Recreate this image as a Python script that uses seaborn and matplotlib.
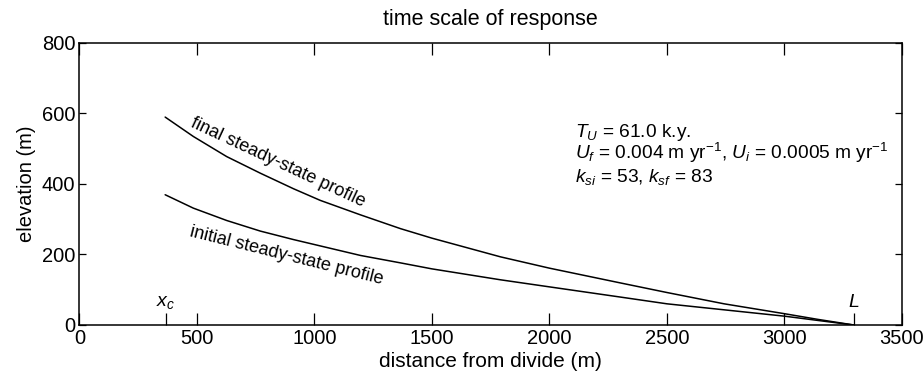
import pandas as pd
import numpy as np
import matplotlib.pyplot as plt
import seaborn as sns

# Values
dist = [365, 485, 627, 770, 911, 1025, 1196, 1366, 1500, 1792, 2000, 2303, 2500, 2743, 3000, 3141, 3295]
final_z = [589, 534, 477, 430, 386, 353, 312, 273, 246, 193, 161, 119, 92, 60, 32, 16, 0]
initial_z = [369, 331, 296, 266, 242, 224, 197, 176, 159, 128, 108, 79, 60, 43, 25, 13, 0]

x_c = 368
L = 3295

x_ticks = [0, 500, 1000, 1500, 2000, 2500, 3000, 3500]
y_ticks = [0, 200, 400, 600, 800]

info_lines = [
    '$T_U$ = 61.0 k.y.',
    '$U_f$ = 0.004 m yr$^{-1}$, $U_i$ = 0.0005 m yr$^{-1}$',
    '$k_{si}$ = 53, $k_{sf}$ = 83',
]

df = pd.concat([
    pd.DataFrame({'x': dist, 'z': final_z, 'profile': 'final'}),
    pd.DataFrame({'x': dist, 'z': initial_z, 'profile': 'initial'}),
])

sns.set_theme(style='ticks')
plt.rcParams['font.family'] = ['Liberation Sans', 'DejaVu Sans']
plt.rcParams['mathtext.fontset'] = 'custom'
plt.rcParams['mathtext.rm'] = 'Liberation Sans'
plt.rcParams['mathtext.it'] = 'Liberation Sans:italic'
plt.rcParams['text.color'] = 'black'
plt.rcParams['axes.labelcolor'] = 'black'

fig = plt.figure(figsize=(9.24, 3.73), dpi=100)
ax = fig.add_axes([0.0859, 0.1287, 0.8903, 0.7571])

sns.lineplot(data=df, x='x', y='z', hue='profile', palette=['black', 'black'],
             estimator=None, sort=False, legend=False, linewidth=1.1, ax=ax)

ax.set_xlim(0, 3500)
ax.set_ylim(0, 800)
ax.set_xticks(x_ticks)
ax.set_yticks(y_ticks)
ax.set_xticks([x_c, L], minor=True)
ax.tick_params(axis='x', which='both', direction='in', length=8.5, width=0.9,
               top=True, labelsize=14.5, colors='black', pad=3)
ax.tick_params(axis='x', which='minor', top=False)
ax.tick_params(axis='y', direction='in', length=5, width=0.9,
               right=True, labelsize=14.5, colors='black', pad=3)
for s in ax.spines.values():
    s.set_linewidth(1.1)
    s.set_color('black')

ax.set_xlabel('distance from divide (m)', fontsize=15, labelpad=3)
ax.set_ylabel('elevation (m)', fontsize=14.5, labelpad=4)
ax.set_title('time scale of response', fontsize=15.5, pad=13)

ax.text(843, 461, 'final steady-state profile', fontsize=13, rotation=-25,
        ha='center', va='center', rotation_mode='anchor')
ax.text(883, 195, 'initial steady-state profile', fontsize=13, rotation=-14,
        ha='center', va='center', rotation_mode='anchor')

ax.annotate('$x_c$', xy=(x_c, 0), xycoords='data', xytext=(0, 10),
            textcoords='offset points', ha='center', va='bottom', fontsize=14)
ax.annotate('$L$', xy=(L, 0), xycoords='data', xytext=(0, 10),
            textcoords='offset points', ha='center', va='bottom', fontsize=14)

for line, yf in zip(info_lines, [0.667, 0.587, 0.508]):
    ax.text(0.602, yf, line, transform=ax.transAxes, fontsize=13.8,
            ha='left', va='baseline')

plt.savefig('out.png', dpi=100)
